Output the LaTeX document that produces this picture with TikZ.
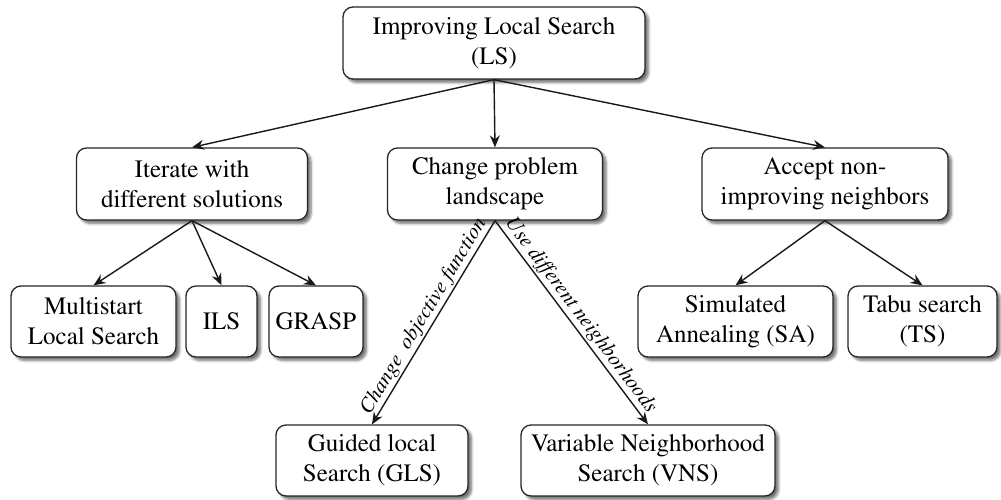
\documentclass[tikz,border=0pt]{standalone}
\usepackage[T1]{fontenc}
\renewcommand{\rmdefault}{ptm}
\usetikzlibrary{arrows.meta,shadows.blur}

\tikzset{
  box/.style={draw=black!85, line width=1.3pt, rounded corners=10pt, fill=white,
    align=center, inner xsep=2pt, inner ysep=0pt,
    font=\rmfamily\fontsize{25}{30}\selectfont,
    blur shadow={shadow xshift=3.5pt, shadow yshift=-3.5pt, shadow blur radius=2.5pt,
      shadow blur steps=6, shadow opacity=55}},
  link/.style={draw=black!90, line width=1.4pt, -{Stealth[length=12pt,width=10pt,inset=4pt]}},
  edgetext/.style={font=\rmfamily\itshape\fontsize{21}{24}\selectfont, sloped, above, inner sep=1.5pt}
}

\begin{document}
\begin{tikzpicture}[x=1pt, y=-1pt]
  \useasboundingbox (0,0) rectangle (1001,500);

  % root
  \node[box, minimum width=302pt, minimum height=72pt] (ls) at (494,43)
    {Improving Local Search\\(LS)};

  % second level: three strategies
  \node[box, minimum width=231pt, minimum height=72pt] (iter) at (192,184)
    {Iterate with\\different solutions};
  \node[box, minimum width=215pt, minimum height=72pt] (land) at (495,184)
    {Change problem\\landscape};
  \node[box, minimum width=246pt, minimum height=72pt] (accept) at (825,184)
    {Accept non-\\improving neighbors};

  % third level
  \node[box, minimum width=165pt, minimum height=71pt] (multi) at (93.5,321.5)
    {Multistart\\Local Search};
  \node[box, minimum width=71pt, minimum height=71pt] (ils) at (221.5,321.5) {ILS};
  \node[box, minimum width=94pt, minimum height=71pt] (grasp) at (316,321.5) {GRASP};
  \node[box, minimum width=195pt, minimum height=71pt] (sa) at (735.5,321.5)
    {Simulated\\Annealing (SA)};
  \node[box, minimum width=149pt, minimum height=71pt] (ts) at (922.5,321.5)
    {Tabu search\\(TS)};

  % fourth level
  \node[box, minimum width=192pt, minimum height=71pt] (gls) at (372,460.5)
    {Guided local\\Search (GLS)};
  \node[box, minimum width=254pt, minimum height=71pt] (vns) at (648,460.5)
    {Variable Neighborhood\\Search (VNS)};

  % connectors
  \draw[link] (ls.south) -- (iter.north);
  \draw[link] (ls.south) -- (land.north);
  \draw[link] (ls.south) -- (accept.north);

  \draw[link] (iter.south) -- (multi.north);
  \draw[link] (iter.south) -- (ils.north);
  \draw[link] (iter.south) -- (grasp.north);

  \draw[link] (land.south) -- node[edgetext] {Change\ \ objective function} (gls.north);
  \draw[link] (land.south) -- node[edgetext] {Use different neighborhoods} (vns.north);

  \draw[link] (accept.south) -- (sa.north);
  \draw[link] (accept.south) -- (ts.north);
\end{tikzpicture}
\end{document}
